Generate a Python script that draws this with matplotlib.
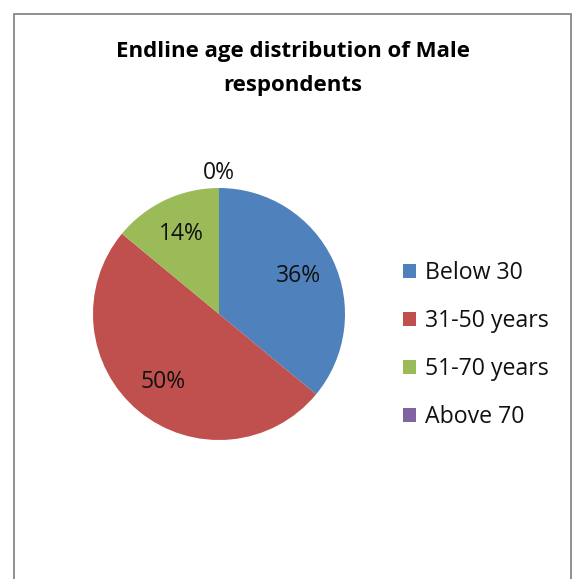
import matplotlib.pyplot as plt
from matplotlib.patches import Rectangle, Patch
import numpy as np

# pie data
categories = ['Below 30', '31-50 years', '51-70 years', 'Above 70']
shares = [36, 50, 14, 0]
colors = ['#4F81BD', '#C0504D', '#9BBB59', '#8064A2']
title_lines = ['Endline age distribution of Male', 'respondents']

plt.rcParams['font.family'] = ['Open Sans', 'DejaVu Sans']

W, H = 574, 579
fig = plt.figure(figsize=(W / 100, H / 100), dpi=100)

# chart frame (bottom edge cut off like the original)
fig.patches.append(Rectangle((14 / W, -0.05), (571 - 14) / W, 1.05 - 14 / H,
                             transform=fig.transFigure, fill=False,
                             edgecolor='#878787', linewidth=1.3))

for y, line in zip([52, 85], title_lines):
    fig.text(293 / W, 1 - y / H, line, ha='center', va='center',
             fontsize=16, fontweight='bold')

cx, cy, r = 219, H - 314, 126
ax = fig.add_axes([(cx - r) / W, (cy - r) / H, 2 * r / W, 2 * r / H])
wedges, _ = ax.pie(shares, colors=colors, startangle=90, counterclock=False,
                   radius=1, wedgeprops=dict(linewidth=0))
ax.set_xlim(-1, 1)
ax.set_ylim(-1, 1)
ax.axis('off')

for w, s in zip(wedges, shares):
    mid = np.deg2rad((w.theta1 + w.theta2) / 2)
    d = 0.70 if s > 0 else 1.12
    ax.text(d * np.cos(mid), d * np.sin(mid), f'{s}%', ha='center',
            va='center', fontsize=16.5, color='#111111', clip_on=False)

handles = [Patch(facecolor=c, edgecolor='none') for c in colors]
fig.legend(handles, categories, loc='center left',
           bbox_to_anchor=(403 / W, 1 - 345 / H), frameon=False,
           fontsize=16.7, handlelength=0.55, handleheight=0.55,
           handletextpad=0.42, labelspacing=1.03, borderpad=0,
           borderaxespad=0, labelcolor='#111111')

fig.savefig('out.png', dpi=100, facecolor='white')
